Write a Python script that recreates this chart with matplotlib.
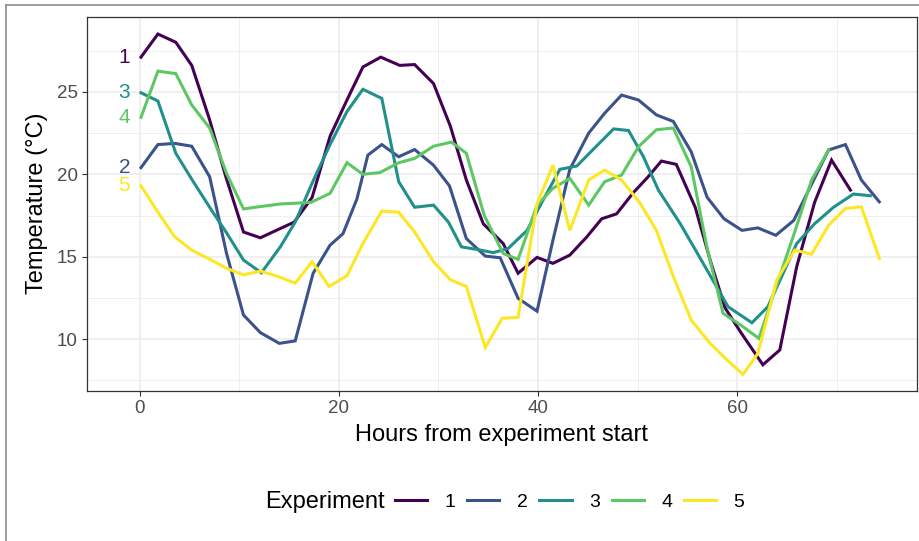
import matplotlib
matplotlib.use("Agg")
import matplotlib.pyplot as plt
from matplotlib.lines import Line2D
from matplotlib.ticker import MultipleLocator

plt.rcParams['font.family'] = ['Liberation Sans', 'DejaVu Sans']

# hours / temperature per experiment
h1 = [0.1, 1.8, 3.6, 5.2, 7.0, 8.6, 10.4, 12.1, 13.7, 15.5, 17.3, 19.1, 20.8, 22.4, 24.2,
      26.1, 27.6, 29.5, 31.2, 32.8, 34.5, 36.5, 38.0, 39.9, 41.5, 43.2, 44.9, 46.4, 47.9,
      49.6, 51.0, 52.4, 53.9, 55.8, 57.3, 58.8, 60.4, 62.6, 64.3, 66.0, 67.8, 69.5, 71.4]
t1 = [27.1, 28.5, 28.0, 26.6, 23.3, 19.9, 16.5, 16.15, 16.6, 17.1, 18.6, 22.3, 24.5, 26.5, 27.1,
      26.6, 26.65, 25.5, 22.9, 19.65, 17.0, 15.8, 14.0, 14.96, 14.6, 15.1, 16.2, 17.3, 17.6,
      18.9, 19.8, 20.8, 20.6, 18.0, 14.8, 11.9, 10.4, 8.45, 9.35, 14.4, 18.3, 20.86, 19.04]

h2 = [0.1, 1.8, 3.5, 5.2, 7.0, 8.7, 10.4, 12.1, 14.0, 15.6, 17.4, 19.1, 20.4, 21.8, 22.9,
      24.3, 26.0, 27.6, 29.5, 31.1, 32.8, 34.7, 36.2, 38.0, 39.9, 41.5, 43.2, 45.1, 46.7,
      48.4, 50.1, 51.9, 53.6, 55.4, 57.0, 58.7, 60.5, 62.1, 63.9, 65.7, 67.5, 69.2, 70.9,
      72.5, 74.3]
t2 = [20.4, 21.8, 21.87, 21.7, 19.85, 15.2, 11.47, 10.4, 9.75, 9.9, 14.0, 15.7, 16.4, 18.5, 21.16,
      21.8, 21.06, 21.5, 20.55, 19.3, 16.1, 15.04, 14.94, 12.48, 11.7, 16.0, 20.3, 22.5, 23.7,
      24.8, 24.5, 23.6, 23.2, 21.36, 18.6, 17.3, 16.6, 16.75, 16.3, 17.2, 19.4, 21.47, 21.8,
      19.65, 18.33]

h3 = [0.1, 1.8, 3.6, 5.2, 7.0, 8.7, 10.4, 12.2, 14.1, 15.6, 17.4, 19.1, 20.8, 22.4, 24.3,
      26.0, 27.6, 29.5, 31.0, 32.3, 33.8, 35.5, 37.0, 38.9, 40.3, 42.2, 43.9, 45.7, 47.6,
      49.1, 50.6, 52.1, 54.3, 56.6, 59.1, 61.5, 63.1, 66.0, 67.8, 69.7, 71.7, 73.4]
t3 = [24.94, 24.44, 21.27, 19.7, 18.0, 16.45, 14.8, 14.03, 15.6, 17.1, 19.6, 21.8, 23.8, 25.15, 24.6,
      19.55, 18.0, 18.13, 17.1, 15.6, 15.45, 15.25, 15.5, 16.6, 18.2, 20.3, 20.5, 21.6, 22.75,
      22.65, 21.06, 19.04, 17.0, 14.6, 11.97, 11.0, 11.97, 15.8, 17.0, 18.0, 18.8, 18.7]

h4 = [0.1, 1.8, 3.6, 5.2, 7.0, 8.7, 10.4, 12.2, 14.1, 15.8, 17.2, 19.1, 20.8, 22.4, 24.1,
      26.0, 27.6, 29.5, 31.3, 32.8, 34.6, 36.5, 38.0, 39.9, 41.5, 43.2, 45.1, 46.7, 48.4,
      50.1, 51.9, 53.6, 55.4, 57.0, 58.6, 60.4, 62.2, 64.0, 65.8, 67.5, 69.2]
t4 = [23.45, 26.25, 26.1, 24.2, 22.8, 20.05, 17.9, 18.05, 18.2, 18.25, 18.3, 18.84, 20.7, 20.0, 20.1,
      20.7, 20.96, 21.7, 21.95, 21.27, 17.5, 15.2, 14.84, 18.13, 19.15, 19.75, 18.13, 19.55, 19.95,
      21.67, 22.7, 22.8, 20.45, 15.5, 11.57, 10.85, 10.05, 13.3, 16.5, 19.65, 21.47]

h5 = [0.1, 1.8, 3.5, 5.2, 7.0, 8.7, 10.4, 12.1, 13.9, 15.6, 17.3, 19.0, 20.8, 22.4, 24.3,
      26.0, 27.6, 29.5, 31.2, 32.8, 34.7, 36.4, 38.0, 39.9, 41.5, 43.2, 45.1, 46.7, 48.4,
      50.2, 51.9, 53.6, 55.4, 57.3, 58.9, 60.6, 62.1, 64.0, 65.8, 67.5, 69.2, 70.9, 72.5, 74.3]
t5 = [19.3, 17.7, 16.2, 15.4, 14.85, 14.3, 13.9, 14.13, 13.8, 13.4, 14.7, 13.2, 13.85, 15.8, 17.77,
      17.7, 16.5, 14.7, 13.6, 13.2, 9.5, 11.27, 11.33, 18.2, 20.55, 16.6, 19.65, 20.25, 19.65,
      18.3, 16.6, 13.8, 11.16, 9.75, 8.8, 7.87, 9.14, 13.6, 15.4, 15.16, 16.9, 17.93, 18.03, 14.9]

experiments = ['1', '2', '3', '4', '5']
hours = [h1, h2, h3, h4, h5]
temps = [t1, t2, t3, t4, t5]
colors = ['#440154', '#3B528B', '#21908C', '#5DC863', '#FDE725']

fig = plt.figure(figsize=(9.19, 5.41), dpi=100)
ax = fig.add_axes([0.0943, 0.2778, 0.9032, 0.6913])

for name, h, t, c in zip(experiments, hours, temps, colors):
    ax.plot(h, t, color=c, lw=2.2, label=name, solid_joinstyle='miter', zorder=3)
    ax.text(-1.0, t[0], name, color=c, fontsize=15, ha='right', va='center', zorder=4)

ax.set_xlim(-5.36, 78.06)
ax.set_ylim(6.88, 29.55)
ax.xaxis.set_major_locator(MultipleLocator(20))
ax.xaxis.set_minor_locator(MultipleLocator(10))
ax.yaxis.set_major_locator(MultipleLocator(5))
ax.yaxis.set_minor_locator(MultipleLocator(2.5))
ax.grid(which='major', color='#EBEBEB', lw=1.1, zorder=0)
ax.grid(which='minor', color='#EBEBEB', lw=0.55, zorder=0)
ax.set_axisbelow(True)
ax.tick_params(which='major', length=3.5, width=0.8, color='#333333',
               labelsize=13.5, labelcolor='#4D4D4D', pad=3)
ax.tick_params(which='minor', length=0)
for s in ax.spines.values():
    s.set_color('#333333')
    s.set_linewidth(0.9)

ax.set_xlabel('Hours from experiment start', fontsize=17, labelpad=5)
ax.set_ylabel('Temperature (°C)', fontsize=17, labelpad=6)

handles = [Line2D([], [], color=c, lw=2.2) for c in colors]
fig.legend(handles, experiments, loc='center', bbox_to_anchor=(0.62, 1 - 502 / 541),
           ncol=5, frameon=False, fontsize=14, handlelength=1.65, handletextpad=0.9,
           columnspacing=0.6)
fig.text(385 / 919, 1 - 502 / 541, 'Experiment', fontsize=17, ha='right', va='center')

# outer frame lines
fig.add_artist(Line2D([6 / 919, 6 / 919], [0, 1 - 5 / 541], transform=fig.transFigure,
                      color='#8C8C8C', lw=1.2))
fig.add_artist(Line2D([6 / 919, 1], [1 - 5 / 541, 1 - 5 / 541], transform=fig.transFigure,
                      color='#8C8C8C', lw=1.2))

fig.savefig('out.png', dpi=100)
